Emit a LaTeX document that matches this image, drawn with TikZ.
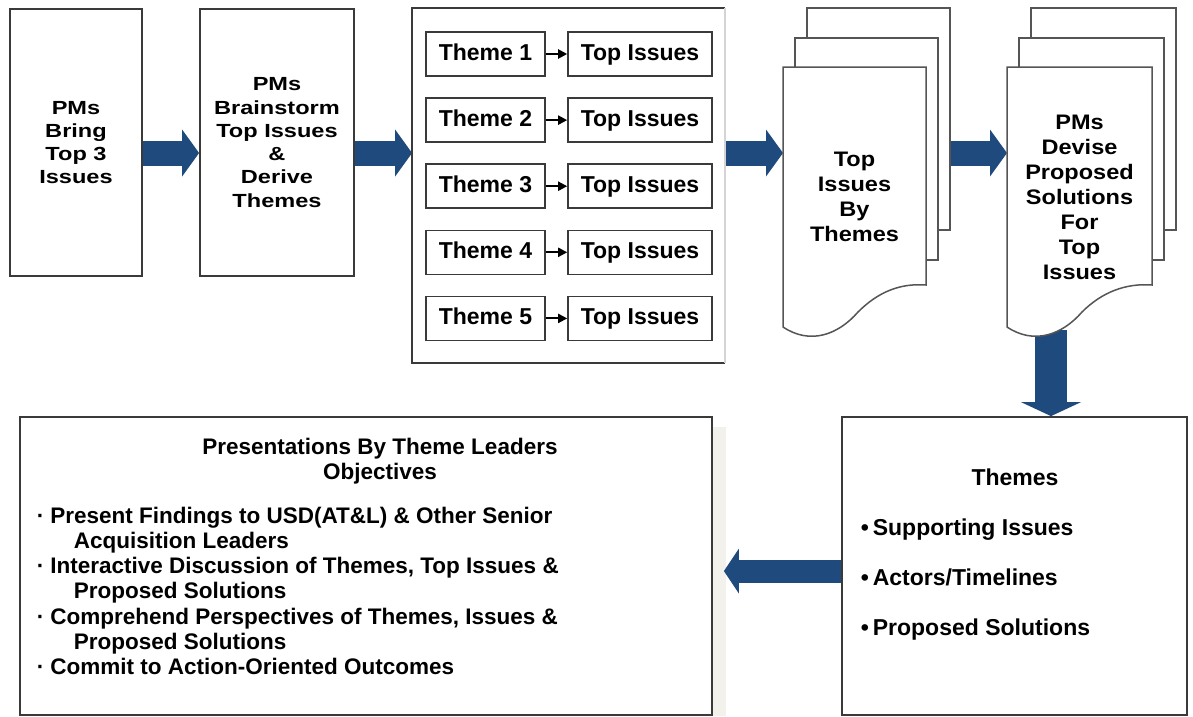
\documentclass[tikz,border=0pt]{standalone}
\usepackage{fontspec}
\setsansfont{Liberation Sans}
\newfontfamily\widesf[FakeStretch=1.24]{Liberation Sans}
\newfontfamily\docsf[FakeStretch=1.12]{Liberation Sans}
\usetikzlibrary{arrows.meta, positioning, calc, backgrounds}
\definecolor{cnavy}{HTML}{1F4A7E}
\definecolor{cedge}{HTML}{3A3A3A}
\definecolor{cpage}{HTML}{555555}
\definecolor{cfaint}{HTML}{D4D4D4}
\definecolor{cshade}{HTML}{F2F1EB}
\tikzset{
  every picture/.style={font=\sffamily\bfseries, line width=1.6pt},
  box/.style={draw=cedge, fill=white, line width=1.8pt, align=center, inner sep=0pt},
  boxtext/.style={font=\widesf\bfseries\fontsize{19}{23.3}\selectfont},
  doc/.style={inner sep=0pt, outer sep=0pt, align=center, minimum height=260pt,
    font=\docsf\bfseries\fontsize{21}{25}\selectfont},
  page/.style={draw=cpage, fill=white, line width=1.5pt},
  tbox/.style={draw=cedge, fill=white, line width=1.6pt, minimum height=44pt, inner sep=0pt,
    text height=16.5pt, text depth=4.5pt, font=\sffamily\bfseries\fontsize{23}{26}\selectfont},
  itemtext/.style={inner sep=0pt, font=\sffamily\bfseries\fontsize{23}{26}\selectfont},
  objtext/.style={inner sep=0pt, font=\sffamily\bfseries\fontsize{22.5}{25}\selectfont},
  edgeline/.style={draw=cedge, line width=1.8pt},
  faintline/.style={draw=cfaint, line width=1.5pt},
  smallarrow/.style={-{Triangle[length=9pt, width=9pt]}, draw=black, line width=2pt},
  barrow/.style={draw=cnavy, line width=25pt, -{Triangle[length=17pt, width=47pt, line width=0pt]}},
  varrow/.style={draw=cnavy, line width=32pt, -{Triangle[length=14pt, width=60pt, line width=0pt]}},
  larrow/.style={draw=cnavy, line width=23pt, -{Triangle[length=15pt, width=45pt, line width=0pt]}},
}
\newcommand\objdot{\textperiodcentered\hspace{6pt}}
\newcommand\objgap{\hspace*{37pt}}

\begin{document}
\begin{tikzpicture}[x=1pt, y=1pt]
  \useasboundingbox (0,0) rectangle (1193,-716);
  \coordinate (mid) at (0,-153);
  \coordinate (back) at (0,-571);
  \coordinate (drop) at (1051,-330);

  % top row
  \node[box, boxtext, minimum width=132pt, minimum height=267pt] (bring) at (76,-142.5) {PMs\\Bring\\Top 3\\Issues};
  \node[box, boxtext, minimum width=154pt, minimum height=267pt] (brain) at (277,-142.5) {PMs\\Brainstorm\\Top Issues\\\&\\Derive\\Themes};
  \node[box, draw=none, minimum width=311pt, minimum height=353pt] (grid) at (568.5,-185.5) {};
  \draw[edgeline] (grid.north east) -- (grid.north west) -- (grid.south west) -- (grid.south east);
  \draw[faintline] (grid.north east) -- (grid.south east);
  \foreach \i in {1,...,5} {
    \node[tbox, minimum width=119pt] (th\i) at (485.5,{-54-66.1*(\i-1)}) {Theme \i};
    \node[tbox, minimum width=144pt] (ti\i) at (640,{-54-66.1*(\i-1)}) {Top Issues};
    \draw[smallarrow] (th\i) -- (ti\i);
  }
  \node[doc, minimum width=143pt] (tib) at (854.5,-197) {Top\\Issues\\By\\Themes};
  \node[doc, minimum width=145pt] (pms) at (1079.5,-197) {PMs\\Devise\\Proposed\\Solutions\\For\\Top\\Issues};
  \coordinate (tibback) at ([xshift=25pt]tib.east);

  % bottom row
  \node[box, minimum width=345pt, minimum height=298pt] (sol) at (1014.5,-566) {};
  \node[itemtext, anchor=base] (solhead) at (1015,-485) {Themes};
  \foreach \t [count=\k] in {Supporting Issues, Actors/Timelines, Proposed Solutions}
    \node[itemtext, anchor=base west] (solitem\k) at (860,{-485-50*\k}) {\textbullet\hspace{4pt}\t};
  \node[box, minimum width=692pt, minimum height=298pt] (obj) at (366,-566) {};
  \coordinate (objtip) at ([xshift=11pt]obj.east);
  \node[objtext, align=center] (objhead) at (380,-461) {Presentations By Theme Leaders\\Objectives};
  \foreach \t [count=\k] in {{\objdot Present Findings to USD(AT\&L) \& Other Senior},
      {\objgap Acquisition Leaders},
      {\objdot Interactive Discussion of Themes, Top Issues \&},
      {\objgap Proposed Solutions},
      {\objdot Comprehend Perspectives of Themes, Issues \&},
      {\objgap Proposed Solutions},
      {\objdot Commit to Action-Oriented Outcomes}}
    \node[objtext, anchor=base west] (objline\k) at (36,{-523-25.3*(\k-1)}) {\t};

  \begin{scope}[on background layer]
    \fill[cshade] ([yshift=-11pt]obj.north east) rectangle ([xshift=13pt]obj.south east);
    \draw[barrow] (bring.east |- mid) -- (brain.west |- mid);
    \draw[barrow] (brain.east |- mid) -- (grid.west |- mid);
    \draw[barrow] (grid.east |- mid) -- (tib.west |- mid);
    \draw[barrow] (tibback |- mid) -- (pms.west |- mid);
    \draw[varrow] (drop) -- (drop |- sol.north);
    \draw[larrow] (sol.west |- back) -- (objtip |- back);
    % stacked pages
    \foreach \d in {tib, pms} {
      \foreach \s/\u in {24/59, 12/29}
        \draw[page] ([shift={(\s,\u)}]\d.north west) rectangle ([shift={(\s,\u-222)}]\d.north east);
      \draw[page] (\d.north west) -- (\d.north east) -- ([yshift=42pt]\d.south east)
        .. controls +(-26,2) and +(20,20) .. ([shift={(75,15)}]\d.south west)
        .. controls +(-20,-23) and +(27,-18) .. (\d.south west) -- cycle;
    }
  \end{scope}
\end{tikzpicture}
\end{document}
